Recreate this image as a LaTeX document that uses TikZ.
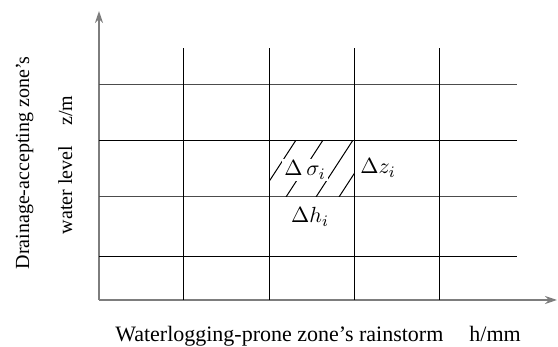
\documentclass[tikz,border=0pt]{standalone}
\usepackage{fontspec}
\setmainfont{Liberation Serif}
\usepackage{tikz}
\usetikzlibrary{arrows.meta, positioning, calc}

\begin{document}
\begin{tikzpicture}[x=5pt, y=5pt, font=\fontsize{11}{13}\selectfont]
	
	% Definizione dei colori
	\definecolor{grigioasse}{RGB}{125,125,125}
	
	% Area del disegno
	\useasboundingbox (0,0) rectangle (55.8,34.7);
	
	% Assi
	\coordinate (O) at (9.9,4.7);
	\coordinate (ycima) at (9.9,33.6);
	\coordinate (xfine) at (55.7,4.7);
	\draw[-{Stealth[length=6pt,width=4pt]}, line width=1pt, draw=grigioasse] (O) -- (ycima);
	\draw[-{Stealth[length=6pt,width=4pt]}, line width=1pt, draw=grigioasse] (O) -- (xfine);
	
	% Griglia
	\foreach \yy/\col in {26.2/black!70, 20.6/black, 15.0/black!70, 9.0/black}
		\draw[draw=\col, line width=0.5pt] (9.9,\yy) -- (51.7,\yy);
	\foreach \xx in {18.3,26.9,35.4,43.9}
		\draw[line width=0.5pt] (\xx,4.7) -- (\xx,29.9);
	
	% Tratteggio della cella
	\begin{scope}
		\clip (26.9,15.0) rectangle (35.4,20.6);
		\foreach \xx in {25.9,28.6,31.6,33.9}
			\draw[line width=0.5pt] (\xx,15.0) -- ++(3.64,5.6);
	\end{scope}
	
	% Etichette nelle celle
	\node[fill=white, inner sep=1pt] (dsigma) at (30.5,17.7) {$\Delta\,\sigma_i$};
	\node (dz) at (37.8,17.9) {$\Delta z_i$};
	\node (dh) at (31.0,13.0) {$\Delta h_i$};
	
	% Nomi degli assi
	\node[rotate=90, anchor=base, font=\fontsize{10}{12}\selectfont] (ytit) at (2.9,18.4) {Drainage-accepting zone's};
	\node[rotate=90, anchor=base, font=\fontsize{10}{12}\selectfont] (yunit) at (7.2,18.2) {water level\hspace{10pt}z/m};
	\node[anchor=base] (xtit) at (31.8,0.5) {Waterlogging-prone zone's rainstorm\hspace{13pt}h/mm};
	
\end{tikzpicture}
\end{document}
